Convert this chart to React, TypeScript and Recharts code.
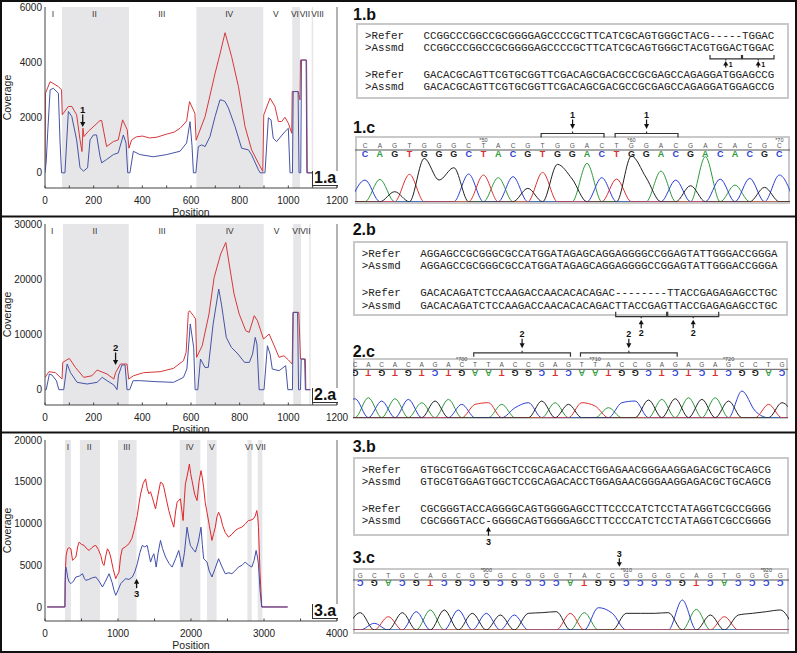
import React from "react"
import { LineChart, Line, XAxis, YAxis, ReferenceArea, ReferenceDot, ReferenceLine, Label } from "recharts"

type Pt = [number, number]
interface Region { name: string; from: number; to: number; shaded: boolean; at: number }
interface Arrow { x: number; y: number; label: string; dir: "up" | "down" }
interface Bracket { from: number; to: number; label: string }

// ---------- 1.a coverage ----------
const cov1Red: Pt[] = [
  [0, 300], [2, 2880], [21, 3300], [55, 3120], [68, 3000], [71, 2100], [96, 2400], [110, 2400], [130, 2100],
  [144, 1190], [152, 770], [156, 1615], [160, 1310], [178, 1500], [226, 1890], [233, 1890], [253, 950],
  [281, 1130], [301, 1190], [319, 1915], [338, 1555], [345, 890], [356, 1190], [375, 1300], [400, 1330],
  [430, 1260], [460, 1290], [500, 1400], [530, 1470], [555, 1610], [575, 1800], [582, 1880], [594, 2577],
  [616, 2150], [621, 1180], [658, 2035], [699, 3600], [720, 4330], [740, 5070], [767, 4200], [795, 3120],
  [822, 1675], [849, 830], [877, 350], [895, 50], [899, 2095], [925, 2700], [945, 2400], [959, 1855],
  [973, 1855], [986, 2010], [1000, 1795], [1014, 1430], [1016, 2940], [1041, 2940], [1048, 2640],
  [1050, 4080], [1075, 4080], [1078, 0], [1100, 0],
]
const cov1Blue: Pt[] = [
  [0, 0], [5, 400], [11, 1445], [21, 3000], [34, 3060], [55, 2880], [62, 1080], [68, 0], [82, 0], [96, 2220],
  [110, 2040], [130, 1190], [144, 180], [158, 60], [175, 180], [185, 1190], [199, 1370], [212, 1370], [226, 600],
  [233, 360], [253, 480], [281, 660], [301, 720], [322, 1370], [333, 1080], [340, 0], [349, 0], [363, 780],
  [390, 660], [445, 580], [500, 660], [555, 780], [582, 1080], [596, 1850], [604, 1000], [610, 0], [620, 0],
  [630, 950], [644, 1010], [658, 950], [678, 1310], [699, 2035], [719, 2640], [730, 2620], [740, 2577],
  [754, 2340], [781, 1675], [808, 890], [836, 830], [849, 650], [877, 110], [884, 0], [904, 0], [918, 1990],
  [929, 1915], [938, 1250], [952, 1130], [986, 1490], [1000, 1610], [1007, 0], [1017, 0], [1020, 2940],
  [1040, 2940], [1044, 0], [1051, 0], [1054, 4080], [1073, 4080], [1076, 0], [1100, 0],
]
const cov1Regions: Region[] = [
  { name: "I", from: 0, to: 70, shaded: false, at: 33 },
  { name: "II", from: 70, to: 345, shaded: true, at: 203 },
  { name: "III", from: 345, to: 622, shaded: false, at: 480 },
  { name: "IV", from: 622, to: 897, shaded: true, at: 757 },
  { name: "V", from: 897, to: 1016, shaded: false, at: 949 },
  { name: "VI", from: 1016, to: 1048, shaded: true, at: 1027 },
  { name: "VII", from: 1048, to: 1096, shaded: false, at: 1068 },
  { name: "VIII", from: 1096, to: 1102, shaded: true, at: 1120 },
]
const cov1XTicks = [0, 100, 200, 300, 400, 500, 600, 700, 800, 900, 1000, 1100, 1200]
const cov1YTicks = [0, 2000, 4000, 6000]
const cov1Arrow: Arrow = { x: 155, y: 1660, label: "1", dir: "down" }

// ---------- 2.a coverage ----------
const cov2Red: Pt[] = [
  [0, 2200], [16, 3260], [43, 3080], [70, 1930], [73, 4950], [100, 5670], [125, 4040], [159, 2230], [193, 2530],
  [214, 3560], [255, 2840], [283, 1930], [290, 3080], [310, 4650], [337, 4650], [344, 1930], [364, 2530],
  [405, 3080], [473, 3260], [528, 3860], [569, 5250], [580, 6760], [589, 14000], [594, 14300], [610, 13400],
  [619, 12800], [623, 5850], [646, 7960], [674, 13700], [695, 20300], [722, 24560], [743, 26660], [757, 22750],
  [777, 17320], [798, 13700], [825, 10680], [839, 10380], [860, 13400], [873, 12490], [898, 9170], [921, 10080],
  [942, 7960], [962, 5850], [982, 6150], [1000, 5400], [1016, 4650], [1019, 14000], [1043, 14000], [1050, 5550],
  [1070, 5550], [1072, 0], [1090, 0],
]
const cov2Blue: Pt[] = [
  [0, 0], [5, 0], [18, 2840], [29, 2650], [47, 1630], [57, 0], [77, 0], [91, 4650], [105, 3080], [132, 1330],
  [173, 1030], [214, 1330], [235, 2230], [255, 1630], [283, 850], [296, 0], [302, 2650], [316, 4470], [329, 4470],
  [337, 0], [348, 0], [362, 1630], [392, 1630], [460, 1450], [528, 1330], [569, 2230], [583, 3740], [597, 11900],
  [611, 7660], [617, 0], [628, 0], [639, 5550], [657, 4040], [671, 4040], [691, 11900], [714, 18230], [725, 15500],
  [745, 9470], [766, 7660], [793, 6460], [820, 4950], [840, 4950], [853, 6460], [864, 9470], [871, 8260], [880, 0],
  [900, 0], [914, 7960], [925, 6460], [934, 3740], [962, 3440], [989, 4350], [998, 0], [1017, 0], [1020, 14000],
  [1038, 14000], [1042, 0], [1050, 0], [1053, 5550], [1067, 5550], [1070, 0], [1090, 0],
]
const cov2Regions: Region[] = [
  { name: "I", from: 0, to: 74, shaded: false, at: 30 },
  { name: "II", from: 74, to: 344, shaded: true, at: 205 },
  { name: "III", from: 344, to: 620, shaded: false, at: 481 },
  { name: "IV", from: 620, to: 899, shaded: true, at: 759 },
  { name: "V", from: 899, to: 1020, shaded: false, at: 952 },
  { name: "VI", from: 1020, to: 1052, shaded: true, at: 1033 },
  { name: "VII", from: 1052, to: 1086, shaded: false, at: 1070 },
  { name: "", from: 1086, to: 1092, shaded: true, at: 1089 },
]
const cov2XTicks = cov1XTicks
const cov2YTicks = [0, 10000, 20000, 30000]
const cov2Arrow: Arrow = { x: 290, y: 4470, label: "2", dir: "down" }

// ---------- 3.a coverage ----------
const cov3Red: Pt[] = [
  [30, 0], [273, 0], [277, 3980], [290, 6200], [309, 6970], [330, 7100], [355, 6970], [377, 5580], [400, 5800],
  [423, 5980], [450, 7300], [468, 7770], [500, 7500], [537, 7370], [570, 7000], [605, 6770], [640, 7100],
  [670, 7300], [696, 7370], [730, 6900], [764, 6180], [790, 5200], [809, 4980], [830, 6000], [855, 6970],
  [880, 6600], [900, 5980], [935, 4500], [969, 3390], [990, 3800], [1014, 4180], [1035, 6000], [1059, 6970],
  [1100, 7200], [1150, 7570], [1190, 8200], [1219, 9160], [1240, 10000], [1264, 10960], [1290, 12500],
  [1310, 13550], [1345, 14800], [1378, 15340], [1400, 14200], [1423, 13550], [1445, 13800], [1469, 13150],
  [1490, 12500], [1514, 11750], [1550, 13500], [1582, 14940], [1610, 14800], [1628, 14340], [1660, 13000],
  [1696, 11550], [1730, 10500], [1764, 9560], [1790, 11500], [1810, 12550], [1835, 12800], [1855, 12950],
  [1875, 11500], [1892, 10360], [1910, 13000], [1923, 14740], [1950, 15800], [1978, 17130], [1995, 16000],
  [2014, 15140], [2050, 13500], [2083, 12750], [2110, 15000], [2137, 16330], [2155, 15500], [2173, 14340],
  [2195, 12500], [2219, 11350], [2250, 9800], [2287, 7970], [2310, 8800], [2333, 9560], [2355, 10800],
  [2378, 11350], [2405, 10800], [2433, 9760], [2470, 8900], [2514, 8370], [2560, 8700], [2605, 9160],
  [2650, 9400], [2696, 9560], [2740, 9900], [2787, 10360], [2820, 10400], [2856, 10560], [2880, 10900],
  [2901, 11550], [2915, 10800], [2924, 9560], [2946, 3980], [2969, 0], [3324, 0],
]
const cov3Blue: Pt[] = [
  [30, 0], [273, 0], [277, 3000], [286, 4780], [300, 4200], [309, 3590], [330, 3000], [355, 2790], [390, 3100],
  [423, 3590], [470, 3700], [514, 3980], [540, 3400], [559, 3190], [600, 3300], [650, 3500], [696, 3590],
  [740, 3100], [787, 2390], [830, 3100], [878, 3980], [920, 2900], [945, 2000], [969, 1390], [1000, 2000],
  [1037, 2790], [1070, 3100], [1105, 3390], [1150, 3300], [1196, 3590], [1230, 4200], [1264, 5180], [1300, 6500],
  [1332, 7370], [1365, 7200], [1400, 7370], [1420, 6500], [1446, 5380], [1470, 6000], [1491, 6370], [1510, 5500],
  [1523, 4780], [1550, 6500], [1582, 7970], [1610, 7000], [1651, 5980], [1700, 5200], [1742, 4780], [1790, 5800],
  [1832, 6770], [1855, 5800], [1878, 4780], [1910, 6500], [1946, 9560], [1970, 8300], [1992, 7370], [2030, 6900],
  [2060, 6570], [2100, 7800], [2137, 9560], [2155, 7500], [2173, 5780], [2219, 5380], [2250, 4300], [2287, 3590],
  [2330, 4600], [2378, 5780], [2420, 4900], [2469, 3980], [2520, 4100], [2560, 3980], [2600, 4300], [2651, 4780],
  [2700, 5000], [2742, 5380], [2790, 5000], [2833, 4780], [2865, 5600], [2892, 6770], [2910, 6000], [2924, 5180],
  [2946, 2000], [2969, 0], [3324, 0],
]
const cov3Regions: Region[] = [
  { name: "I", from: 273, to: 355, shaded: true, at: 314 },
  { name: "II", from: 477, to: 753, shaded: true, at: 605 },
  { name: "III", from: 1000, to: 1255, shaded: true, at: 1120 },
  { name: "IV", from: 1846, to: 2128, shaded: true, at: 1983 },
  { name: "V", from: 2218, to: 2350, shaded: true, at: 2287 },
  { name: "VI", from: 2773, to: 2832, shaded: true, at: 2796 },
  { name: "VII", from: 2914, to: 2978, shaded: true, at: 2955 },
]
const cov3XTicks = [0, 500, 1000, 1500, 2000, 2500, 3000, 3500, 4000]
const cov3YTicks = [0, 5000, 10000, 15000, 20000]
const cov3Arrow: Arrow = { x: 1255, y: 3390, label: "3", dir: "up" }

// ---------- alignments ----------
const aln1 = [
  "CCGGCCCGGCCGCGGGGAGCCCCGCTTCATCGCAGTGGGCTACG-----TGGAC",
  "CCGGCCCGGCCGCGGGGAGCCCCGCTTCATCGCAGTGGGCTACGTGGACTGGAC",
  "GACACGCAGTTCGTGCGGTTCGACAGCGACGCCGCGAGCCAGAGGATGGAGCCG",
  "GACACGCAGTTCGTGCGGTTCGACAGCGACGCCGCGAGCCAGAGGATGGAGCCG",
]
const aln2 = [
  "AGGAGCCGCGGGCGCCATGGATAGAGCAGGAGGGGCCGGAGTATTGGGACCGGGA",
  "AGGAGCCGCGGGCGCCATGGATAGAGCAGGAGGGGCCGGAGTATTGGGACCGGGA",
  "GACACAGATCTCCAAGACCAACACACAGAC--------TTACCGAGAGAGCCTGC",
  "GACACAGATCTCCAAGACCAACACACAGACTTACCGAGTTACCGAGAGAGCCTGC",
]
const aln3 = [
  "GTGCGTGGAGTGGCTCCGCAGACACCTGGAGAACGGGAAGGAGACGCTGCAGCG",
  "GTGCGTGGAGTGGCTCCGCAGACACCTGGAGAACGGGAAGGAGACGCTGCAGCG",
  "CGCGGGTACCAGGGGCAGTGGGGAGCCTTCCCCATCTCCTATAGGTCGCCGGGG",
  "CGCGGGTACC-GGGGCAGTGGGGAGCCTTCCCCATCTCCTATAGGTCGCCGGGG",
]
const alnNames = [">Refer", ">Assmd", ">Refer", ">Assmd"]
const aln1Brackets: Bracket[] = [{ from: 44, to: 48, label: "1" }, { from: 49, to: 53, label: "1" }]
const aln2Brackets: Bracket[] = [{ from: 30, to: 37, label: "2" }, { from: 38, to: 45, label: "2" }]
const aln3Gap = 10

// ---------- chromatograms ----------
const c1Bases = "CAGTGGGCTACGTGGACTGGACGACACGC".split("")
const c1Peaks = [65, 67, 30, 82, 130, 65, 102, 83, 80, 72, 75, 40, 88, 112, 68, 115, 72, 68, 137, 72, 92, 65, 48, 135, 68, 50, 70, 43, 80]
const c1Marks: Record<number, string> = { 8: "*50", 18: "*60", 28: "*70" }
const c1Brackets: Bracket[] = [{ from: 12, to: 16, label: "1" }, { from: 17, to: 21, label: "1" }]

const c2Bases = "CACACAGACTTACCGAGTTACCGAGAGAGCCTG".split("")
const c2Peaks = [57, 60, 50, 57, 55, 45, 50, 55, 40, 40, 45, 40, 30, 45, 50, 45, 40, 45, 35, 30, 45, 50, 53, 55, 57, 60, 55, 60, 50, 80, 20, 40, 45]
const c2Marks: Record<number, string> = { 8: "*700", 18: "*710", 28: "*720" }
const c2Brackets: Bracket[] = [{ from: 9, to: 16, label: "2" }, { from: 17, to: 24, label: "2" }]

const c3Bases = "GCTGCAGCGCGCGGGTACCGGGGCAGTGGGG".split("")
const c3Peaks = [52, 20, 40, 52, 55, 60, 60, 60, 50, 50, 45, 45, 50, 52, 55, 50, 52, 67, 50, 50, 50, 50, 52, 90, 62, 45, 40, 45, 50, 55, 60]
const c3Marks: Record<number, string> = { 9: "*900", 19: "*910", 29: "*920" }
const c3Arrow = { at: 18.5, label: "3" }

const BASE_COLORS: Record<string, string> = { A: "#2f9a3c", C: "#2c3ed6", G: "#222222", T: "#dd3030" }
const COMPLEMENT: Record<string, string> = { A: "T", T: "A", C: "G", G: "C" }
const SANS = '"Liberation Sans", Arial, sans-serif'
const CH = 6.5

function CovTick(props: any) {
  const { x, y, payload, step } = props
  const v = payload.value
  return (
    <g>
      <line x1={x} x2={x} y1={y} y2={y - 2.5} stroke="#444" />
      {v % step === 0 && (
        <text x={x} y={y + 16} textAnchor="middle" fontSize={10} fill="#222" stroke="none" fontFamily={SANS}>{v}</text>
      )}
    </g>
  )
}

function arrowShape(label: string, dir: "up" | "down", shaft: number, textGap: number) {
  return (p: any) => {
    const { cx, cy } = p
    const s = dir === "down" ? -1 : 1
    return (
      <g>
        <polygon points={`${cx},${cy} ${cx - 2.6},${cy + s * 5} ${cx + 2.6},${cy + s * 5}`} fill="#111" />
        <line x1={cx} x2={cx} y1={cy + s * 4.5} y2={cy + s * shaft} stroke="#111" strokeWidth={1.3} />
        <text x={cx} y={cy + s * textGap} textAnchor="middle" fontSize={9.5} fontWeight="bold" fill="#111" stroke="none" fontFamily={SANS}>{label}</text>
      </g>
    )
  }
}

function CoverageChart(props: {
  top: number; red: Pt[]; blue: Pt[]; xMax: number; yDomain: [number, number]; xTicks: number[]; step: number
  yTicks: number[]; regions: Region[]; arrow: Arrow; tag: string; redColor: string; blueColor: string
}) {
  const { top, red, blue, xMax, yDomain, xTicks, step, yTicks, regions, arrow, tag, redColor, blueColor } = props
  const redData = red.map(([x, y]) => ({ x, y }))
  const blueData = blue.map(([x, y]) => ({ x, y }))
  return (
    <div style={{ position: "absolute", left: 0, top }}>
      <LineChart width={352} height={218} margin={{ top: 7, right: 15, bottom: 0, left: 0 }}>
        <XAxis type="number" dataKey="x" domain={[0, xMax]} ticks={xTicks} interval={0} allowDataOverflow
          height={30} stroke="#444" tickSize={0} tickMargin={0} tick={(p: any) => <CovTick {...p} step={step} />}>
          <Label content={(p: any) => {
            const vb = p.viewBox
            return <text x={vb.x + vb.width / 2} y={vb.y + 27.5} textAnchor="middle" fontSize={10.5} fill="#222" fontFamily={SANS}>Position</text>
          }} />
        </XAxis>
        <YAxis type="number" domain={yDomain} ticks={yTicks} interval={0} allowDataOverflow width={45}
          stroke="#444" tickSize={0} tickMargin={3} tick={{ fontSize: 10, fill: "#222", fontFamily: SANS }}>
          <Label content={(p: any) => {
            const vb = p.viewBox
            const cy = vb.y + vb.height / 2
            return <text x={0} y={0} transform={`translate(6.5, ${cy}) rotate(-90)`} textAnchor="middle" dominantBaseline="central" fontSize={10.5} fill="#222" fontFamily={SANS}>Coverage</text>
          }} />
        </YAxis>
        {regions.filter((r) => r.shaded).map((r) => (
          <ReferenceArea key={"a" + r.from} x1={r.from} x2={r.to} fill="#e6e6e8" fillOpacity={1} stroke="none" ifOverflow="hidden" />
        ))}
        <ReferenceLine x={xMax} stroke="#666" />
        <Line data={redData} dataKey="y" type="linear" stroke={redColor} strokeWidth={1} dot={false} activeDot={false} isAnimationActive={false} />
        <Line data={blueData} dataKey="y" type="linear" stroke={blueColor} strokeWidth={1} dot={false} activeDot={false} isAnimationActive={false} />
        {regions.map((r) => (
          <ReferenceDot key={"l" + r.from} x={r.at} y={yDomain[1]} ifOverflow="visible"
            shape={(p: any) => <text x={p.cx} y={p.cy + 9.5} textAnchor="middle" fontSize={8.5} fill="#333" stroke="none" fontFamily={SANS}>{r.name}</text>} />
        ))}
        <ReferenceDot x={arrow.x} y={arrow.y} ifOverflow="visible"
          shape={arrow.dir === "down" ? arrowShape(arrow.label, "down", 12.5, 13.7) : arrowShape(arrow.label, "up", 9.5, 18.4)} />
      </LineChart>
      <div style={{ position: "absolute", left: 312, top: 171, width: 26, height: 15, background: "#fff", borderLeft: "1px solid #333", borderBottom: "1px solid #333", boxSizing: "border-box", font: `bold 16px ${SANS}`, lineHeight: "14px", whiteSpace: "nowrap", color: "#111", paddingLeft: 1 }}>{tag}</div>
    </div>
  )
}

function BaseTick(props: any) {
  const { x, y, payload, bases, marks, flipped } = props
  const i = payload.value as number
  const top = bases[i]
  if (!top) return <g />
  const low = flipped ? COMPLEMENT[top] : top
  return (
    <g fontFamily={SANS}>
      {marks[i] && <text x={x} y={y - 7.8} textAnchor="middle" fontSize={5.5} fill="#444">{marks[i]}</text>}
      <text x={x} y={y - 2} textAnchor="middle" fontSize={6.5} fill="#555">{top}</text>
      <text x={x} y={y + 7} textAnchor="middle" fontSize={9} fontWeight="bold" fill={BASE_COLORS[low]}
        transform={flipped ? `rotate(180 ${x} ${y + 3.6})` : undefined}>{low}</text>
    </g>
  )
}

function Chromatogram(props: {
  left: number; boxTop: number; boxW: number; boxH: number; lineY: number; baseY: number; chartTop: number
  bases: string[]; peaks: number[]; marks: Record<number, string>; flipped: boolean; domain: [number, number]
  brackets: Bracket[]; arrow?: { at: number; label: string }
}) {
  const { left, boxTop, boxW, boxH, lineY, baseY, chartTop, bases, peaks, marks, flipped, domain, brackets, arrow } = props
  const n = bases.length
  const rows: any[] = []
  for (let i = -1; i <= n; i++) {
    const r: any = { i, A: 0, C: 0, G: 0, T: 0 }
    if (i >= 0 && i < n) r[bases[i]] = peaks[i]
    rows.push(r)
  }
  const D = (baseY - lineY) * 3
  const above = (px: number) => D + px * 3
  const height = boxTop + boxH - chartTop
  const ticks = bases.map((_, i) => i)
  const bracketShape = (label: string) => (p: any) => {
    const { x, y, width, height: h } = p
    const cx = x + width / 2
    return (
      <g>
        <path d={`M${x},${y + h}V${y}H${x + width}V${y + h}M${cx},${y}V${y - 2}`} stroke="#333" strokeWidth={1.2} fill="none" />
        <polygon points={`${cx},${y - 4.5} ${cx - 2.5},${y - 9.5} ${cx + 2.5},${y - 9.5}`} fill="#111" />
        <line x1={cx} x2={cx} y1={y - 9} y2={y - 14} stroke="#111" strokeWidth={1.2} />
        <text x={cx} y={y - 15.5} textAnchor="middle" fontSize={9} fontWeight="bold" fill="#111" fontFamily={SANS}>{label}</text>
      </g>
    )
  }
  return (
    <>
      <div style={{ position: "absolute", left, top: boxTop, width: boxW, height: boxH, border: "2px solid #c9c9c9", boxSizing: "border-box" }} />
      <div style={{ position: "absolute", left, top: chartTop }}>
        <LineChart width={boxW} height={height} data={rows}
          margin={{ top: lineY - chartTop - 10, right: 0, bottom: boxTop + boxH - baseY, left: 0 }}>
          <XAxis type="number" dataKey="i" orientation="top" height={10} domain={domain} allowDataOverflow ticks={ticks}
            interval={0} stroke="#555" tickSize={0} tickMargin={0}
            tick={(p: any) => <BaseTick {...p} bases={bases} marks={marks} flipped={flipped} />} />
          <YAxis hide type="number" domain={[0, D]} allowDataOverflow />
          {["A", "C", "T", "G"].map((ch) => (
            <Line key={ch} dataKey={ch} type="monotone" stroke={BASE_COLORS[ch]} strokeWidth={1} dot={false} activeDot={false} isAnimationActive={false} />
          ))}
          {brackets.map((b) => (
            <ReferenceArea key={b.from} x1={b.from - 0.1} x2={b.to + 0.15} y1={above(12.5)} y2={above(16.5)}
              ifOverflow="visible" shape={bracketShape(b.label)} />
          ))}
          {arrow && (
            <ReferenceDot x={arrow.at} y={above(13.3)} ifOverflow="visible" shape={(p: any) => (
              <g>
                <polygon points={`${p.cx},${p.cy} ${p.cx - 2.5},${p.cy - 4.5} ${p.cx + 2.5},${p.cy - 4.5}`} fill="#111" />
                <line x1={p.cx} x2={p.cx} y1={p.cy - 4} y2={p.cy - 8.5} stroke="#111" strokeWidth={1.2} />
                <text x={p.cx} y={p.cy - 9.5} textAnchor="middle" fontSize={9} fontWeight="bold" fill="#111" fontFamily={SANS}>{arrow.label}</text>
              </g>
            )} />
          )}
        </LineChart>
      </div>
    </>
  )
}

const ROW_OFFSETS = [12.3, 24.7, 51.3, 64]

function AlignmentBox({ left, top, width, height, seqs }: { left: number; top: number; width: number; height: number; seqs: string[] }) {
  return (
    <>
      <div style={{ position: "absolute", left, top, width, height, border: "2px solid #c9c9c9", boxSizing: "border-box" }} />
      {seqs.map((s, k) => (
        <div key={k} style={{ position: "absolute", left: left + 9, top: top + ROW_OFFSETS[k] - 5.3, font: '10.83px "Liberation Mono", monospace', lineHeight: "12px", whiteSpace: "pre", color: "#222" }}>
          {alnNames[k].padEnd(9) + s}
        </div>
      ))}
    </>
  )
}

function PanelTag({ left, cy, text }: { left: number; cy: number; text: string }) {
  return <div style={{ position: "absolute", left, top: cy - 8, font: `bold 16px ${SANS}`, lineHeight: "16px", color: "#111" }}>{text}</div>
}

const box1 = { left: 356, top: 22.7, width: 433, height: 76.6 }
const box2 = { left: 352.7, top: 241, width: 435.6, height: 74.7 }
const box3 = { left: 352.7, top: 456.7, width: 436.6, height: 79.3 }
const seqX = (box: { left: number }, i: number) => box.left + 9 + (9 + i) * CH

function upArrow(x: number, tip: number, shaftEnd: number) {
  return (
    <g>
      <polygon points={`${x},${tip} ${x - 2.5},${tip + 4.5} ${x + 2.5},${tip + 4.5}`} fill="#111" />
      <line x1={x} x2={x} y1={tip + 4} y2={shaftEnd} stroke="#111" strokeWidth={1.2} />
    </g>
  )
}

function Overlay() {
  const b1y = box1.top + ROW_OFFSETS[1]
  const b2y = box2.top + ROW_OFFSETS[3]
  return (
    <svg width={797} height={653} style={{ position: "absolute", left: 0, top: 0, pointerEvents: "none" }}>
      <rect x={1} y={1} width={795} height={651} fill="none" stroke="#111" strokeWidth={2} />
      <line x1={0} x2={797} y1={216.5} y2={216.5} stroke="#111" strokeWidth={2} />
      <line x1={0} x2={797} y1={432.5} y2={432.5} stroke="#111" strokeWidth={2} />
      {aln1Brackets.map((b) => {
        const x1 = seqX(box1, b.from) + 0.5, x2 = seqX(box1, b.to + 1) - 0.5, cx = (x1 + x2) / 2
        const t = b1y + 7.5, bt = b1y + 11.5
        return (
          <g key={b.from}>
            <path d={`M${x1},${t}V${bt}H${x2}V${t}M${cx},${bt}V${bt + 1.5}`} stroke="#333" strokeWidth={1.2} fill="none" />
            {upArrow(cx, bt + 2, bt + 8.5)}
            <text x={cx + 3} y={bt + 7.6} fontSize={7} fontWeight="bold" fill="#111" fontFamily={SANS}>{b.label}</text>
          </g>
        )
      })}
      {aln2Brackets.map((b) => {
        const x1 = seqX(box2, b.from) + 0.5, x2 = seqX(box2, b.to + 1) - 0.5, cx = (x1 + x2) / 2
        const t = b2y + 6.7, bt = b2y + 11.7
        return (
          <g key={b.from}>
            <path d={`M${x1},${t}V${bt}H${x2}V${t}M${cx},${bt}V${bt + 1.5}`} stroke="#333" strokeWidth={1.2} fill="none" />
            {upArrow(cx, bt + 3, bt + 11.5)}
            <text x={cx} y={bt + 19} textAnchor="middle" fontSize={9} fontWeight="bold" fill="#111" fontFamily={SANS}>{b.label}</text>
          </g>
        )
      })}
      {(() => {
        const cx = seqX(box3, aln3Gap) + CH / 2
        const tip = box3.top + ROW_OFFSETS[3] + 6.3
        return (
          <g>
            {upArrow(cx, tip, tip + 8.7)}
            <text x={cx} y={tip + 18.2} textAnchor="middle" fontSize={9} fontWeight="bold" fill="#111" fontFamily={SANS}>3</text>
          </g>
        )
      })()}
    </svg>
  )
}

export default function App() {
  return (
    <div style={{ position: "absolute", left: 0, top: 0, width: 797, height: 653, background: "#fff", overflow: "hidden", fontFamily: SANS }}>
      <CoverageChart top={0} red={cov1Red} blue={cov1Blue} xMax={1200} yDomain={[-550, 6000]} xTicks={cov1XTicks} step={200}
        yTicks={cov1YTicks} regions={cov1Regions} arrow={cov1Arrow} tag="1.a" redColor="#d6383c" blueColor="#4653a5" />
      <CoverageChart top={216.5} red={cov2Red} blue={cov2Blue} xMax={1200} yDomain={[-2770, 30000]} xTicks={cov2XTicks} step={200}
        yTicks={cov2YTicks} regions={cov2Regions} arrow={cov2Arrow} tag="2.a" redColor="#d6383c" blueColor="#4653a5" />
      <CoverageChart top={432.5} red={cov3Red} blue={cov3Blue} xMax={4000} yDomain={[-1680, 20000]} xTicks={cov3XTicks} step={1000}
        yTicks={cov3YTicks} regions={cov3Regions} arrow={cov3Arrow} tag="3.a" redColor="#e0262b" blueColor="#3f4fab" />

      <PanelTag left={353} cy={15} text="1.b" />
      <AlignmentBox {...box1} seqs={aln1} />
      <PanelTag left={353} cy={128} text="1.c" />
      <Chromatogram left={355} boxTop={136} boxW={435} boxH={68} lineY={150} baseY={201.7} chartTop={106}
        bases={c1Bases} peaks={c1Peaks} marks={c1Marks} flipped={false} domain={[-0.68, 28.72]} brackets={c1Brackets} />

      <PanelTag left={352.7} cy={230} text="2.b" />
      <AlignmentBox {...box2} seqs={aln2} />
      <PanelTag left={352.7} cy={351.7} text="2.c" />
      <Chromatogram left={352.7} boxTop={358.3} boxW={435.6} boxH={60.7} lineY={369.3} baseY={417.7} chartTop={328}
        bases={c2Bases} peaks={c2Peaks} marks={c2Marks} flipped={true} domain={[-0.15, 32.5]} brackets={c2Brackets} />

      <PanelTag left={352.7} cy={446.7} text="3.b" />
      <AlignmentBox {...box3} seqs={aln3} />
      <PanelTag left={352.7} cy={558.3} text="3.c" />
      <Chromatogram left={352.7} boxTop={568.3} boxW={436.6} boxH={65.7} lineY={580} baseY={630} chartTop={546}
        bases={c3Bases} peaks={c3Peaks} marks={c3Marks} flipped={true} domain={[-0.52, 30.66]} brackets={[]} arrow={c3Arrow} />

      <Overlay />
    </div>
  )
}
